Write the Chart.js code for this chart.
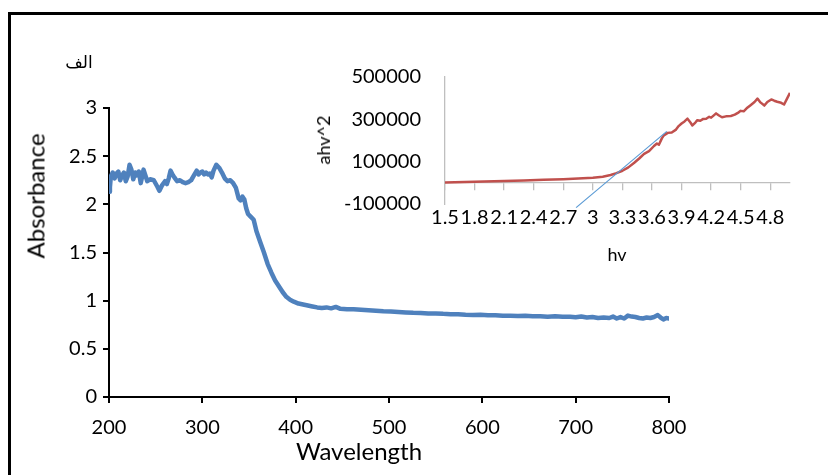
<!DOCTYPE html>
<html>
<head>
<meta charset="utf-8">
<script src="https://cdn.jsdelivr.net/npm/chart.js@4"></script>
<style>
  body { margin: 0; background: #fff; }
  #wrap { position: relative; width: 828px; height: 475px; overflow: hidden; }
  #frame { position: absolute; left: 8px; top: 12px; width: 900px; height: 600px; border: 3px solid #000; }
  #mainBox { position: absolute; left: 0; top: 0; width: 828px; height: 475px; }
  #insetBox { position: absolute; left: 300px; top: 41px; width: 528px; height: 230px; }
  .lbl { position: absolute; font-family: Lato, sans-serif; color: #000; white-space: nowrap; transform: translate(-50%, -50%); }
  .rot { transform: translate(-50%, -50%) rotate(-90deg); }
</style>
</head>
<body>
<div id="wrap">
  <div id="frame"></div>
  <div id="mainBox"><canvas id="main"></canvas></div>
  <div id="insetBox"><canvas id="inset"></canvas></div>
  <div class="lbl" style="left:79px; top:62px; font-family:'DejaVu Sans'; font-size:17px;">الف</div>
  <div class="lbl rot" style="left:35px; top:196px; font-size:24px;">Absorbance</div>
  <div class="lbl" style="left:359px; top:450px; font-size:24px;">Wavelength</div>
  <div class="lbl rot" style="left:323px; top:140px; font-size:18px;">ahv^2</div>
  <div class="lbl" style="left:617px; top:254px; font-size:18px;">hv</div>
</div>
<script>
// main spectrum: absorbance vs wavelength (nm)
const wavelength = [200, 201, 202, 204, 206, 208, 210, 212, 214, 216, 218, 220, 222, 224, 226, 228, 230, 232, 234, 236,
  237, 239, 241, 244, 248, 252, 254, 257, 260, 262, 264, 266, 268, 270, 273, 276, 279, 282, 285, 288,
  291, 294, 296, 298, 300, 302, 304, 306, 308, 310, 312, 315, 318, 321, 324, 327, 330, 333, 336, 339,
  341, 343, 345, 347, 349, 352, 355, 358, 362, 366, 370, 374, 378, 382, 386, 390, 394, 398, 403, 408,
  413, 418, 423, 428, 433, 438, 443, 448, 455, 462, 470, 478, 486, 494, 502, 510, 518, 526, 534, 542,
  550, 558, 566, 574, 582, 590, 598, 606, 614, 622, 630, 638, 646, 654, 662, 670, 678, 686, 694, 700,
  706, 712, 718, 724, 730, 736, 740, 744, 748, 752, 756, 760, 764, 768, 772, 776, 780, 784, 788, 791,
  794, 797, 800];
const absorbance = [2.13, 2.18, 2.29, 2.33, 2.27, 2.32, 2.34, 2.25, 2.30, 2.33, 2.24, 2.29, 2.41, 2.36, 2.26, 2.33, 2.30, 2.34, 2.22, 2.31,
  2.36, 2.30, 2.24, 2.26, 2.25, 2.18, 2.14, 2.20, 2.24, 2.21, 2.27, 2.35, 2.31, 2.28, 2.24, 2.25, 2.23, 2.22, 2.23, 2.25,
  2.30, 2.35, 2.31, 2.33, 2.34, 2.31, 2.33, 2.31, 2.32, 2.28, 2.35, 2.41, 2.38, 2.33, 2.27, 2.24, 2.25, 2.22, 2.17, 2.06,
  2.04, 2.08, 2.05, 1.96, 1.90, 1.87, 1.84, 1.72, 1.61, 1.50, 1.38, 1.29, 1.21, 1.15, 1.09, 1.04, 1.01, 0.99, 0.97, 0.96,
  0.95, 0.94, 0.93, 0.925, 0.93, 0.92, 0.935, 0.915, 0.91, 0.91, 0.905, 0.90, 0.895, 0.89, 0.888, 0.883, 0.878, 0.874, 0.873, 0.868,
  0.868, 0.863, 0.86, 0.858, 0.853, 0.85, 0.853, 0.848, 0.848, 0.843, 0.843, 0.84, 0.843, 0.838, 0.838, 0.834, 0.838, 0.833, 0.833, 0.828,
  0.836, 0.826, 0.83, 0.82, 0.825, 0.82, 0.835, 0.815, 0.83, 0.815, 0.845, 0.835, 0.83, 0.82, 0.815, 0.825, 0.82, 0.83, 0.85, 0.825,
  0.805, 0.82, 0.815];
const wavelengthTicks = [200, 300, 400, 500, 600, 700, 800];
const absorbanceTicks = [0, 0.5, 1, 1.5, 2, 2.5, 3];

// inset: (ahv)^2 vs photon energy hv (eV)
const hv = [1.50, 1.70, 1.90, 2.10, 2.30, 2.50, 2.70, 2.85, 3.00, 3.10, 3.18, 3.24, 3.30, 3.36, 3.42, 3.47, 3.52, 3.57, 3.62, 3.65,
  3.67, 3.70, 3.72, 3.76, 3.80, 3.84, 3.87, 3.90, 3.93, 3.96, 3.99, 4.01, 4.04, 4.06, 4.09, 4.12, 4.15, 4.18, 4.20, 4.23,
  4.25, 4.28, 4.31, 4.35, 4.40, 4.44, 4.48, 4.50, 4.53, 4.56, 4.60, 4.64, 4.67, 4.70, 4.74, 4.77, 4.81, 4.84, 4.87, 4.91,
  4.94, 4.97, 5.00];
const ahv2 = [2000, 4000, 6000, 8500, 11000, 14000, 17000, 20000, 24000, 29000, 37000, 46000, 57000, 73000, 95000, 115000, 137000, 150000, 174000, 186000,
  180000, 210000, 224000, 236000, 238000, 250000, 268000, 280000, 290000, 303000, 285000, 271000, 285000, 296000, 293000, 302000, 303000, 312000, 308000, 320000,
  328000, 318000, 310000, 314000, 316000, 322000, 333000, 340000, 338000, 352000, 367000, 382000, 398000, 380000, 365000, 382000, 394000, 388000, 383000, 378000,
  370000, 398000, 425000];
const tangentHv = [2.83, 3.75];
const tangentAhv2 = [-117000, 243000];
const hvTicks = [1.5, 1.8, 2.1, 2.4, 2.7, 3, 3.3, 3.6, 3.9, 4.2, 4.5, 4.8];
const ahv2Ticks = [-100000, 100000, 300000, 500000];

Chart.defaults.font.family = 'Lato, sans-serif';
Chart.defaults.color = '#000';

const toPoints = (xs, ys) => xs.map((x, i) => ({ x: x, y: ys[i] }));
const asText = v => String(Math.round(v * 10) / 10);

new Chart(document.getElementById('main'), {
  type: 'line',
  data: {
    datasets: [{
      data: toPoints(wavelength, absorbance),
      borderColor: '#4F81BD',
      borderWidth: 4.5,
      pointRadius: 0,
      borderJoinStyle: 'round',
      borderCapStyle: 'round'
    }]
  },
  options: {
    responsive: true,
    maintainAspectRatio: false,
    animation: false,
    layout: { padding: { left: 0, top: 108, right: 159, bottom: 0 } },
    plugins: { legend: { display: false }, tooltip: { enabled: false } },
    scales: {
      x: {
        type: 'linear',
        min: wavelengthTicks[0],
        max: wavelengthTicks[wavelengthTicks.length - 1],
        afterBuildTicks: s => { s.ticks = wavelengthTicks.map(v => ({ value: v })); },
        ticks: { font: { size: 20 }, padding: 13, maxRotation: 0, callback: asText },
        grid: { drawOnChartArea: false, color: '#000', lineWidth: 2, tickLength: 6 },
        border: { color: '#000', width: 2 },
        afterFit: s => { s.height = 78; }
      },
      y: {
        min: absorbanceTicks[0],
        max: absorbanceTicks[absorbanceTicks.length - 1],
        afterBuildTicks: s => { s.ticks = absorbanceTicks.map(v => ({ value: v })); },
        ticks: { font: { size: 20 }, padding: 6, callback: asText },
        grid: { drawOnChartArea: false, color: '#000', lineWidth: 2, tickLength: 6 },
        border: { color: '#000', width: 2 },
        afterFit: s => { s.width = 109; }
      }
    }
  }
});

// the inset's y tick padding (24) also pads the top by 12 + 24 = 36px
new Chart(document.getElementById('inset'), {
  type: 'line',
  data: {
    datasets: [{
      data: toPoints(tangentHv, tangentAhv2),
      borderColor: '#5B9BD5',
      borderWidth: 1.2,
      pointRadius: 0,
      clip: false
    }, {
      data: toPoints(hv, ahv2),
      borderColor: '#C0504D',
      borderWidth: 2.5,
      pointRadius: 0,
      borderJoinStyle: 'round'
    }]
  },
  options: {
    responsive: true,
    maintainAspectRatio: false,
    animation: false,
    layout: { padding: { left: 0, top: 36, right: 38, bottom: 0 } },
    plugins: { legend: { display: false }, tooltip: { enabled: false } },
    scales: {
      x: {
        type: 'linear',
        position: { y: 0 },
        min: 1.5,
        max: 5.0,
        afterBuildTicks: s => { s.ticks = hvTicks.map(v => ({ value: v })); },
        ticks: { display: false },
        grid: { drawOnChartArea: false, color: '#BFBFBF', lineWidth: 1.3, tickLength: 7 },
        border: { color: '#BFBFBF', width: 1.3 }
      },
      x2: {
        type: 'linear',
        position: 'bottom',
        min: 1.5,
        max: 5.0,
        afterBuildTicks: s => { s.ticks = hvTicks.map(v => ({ value: v })); },
        ticks: { font: { size: 20 }, padding: 2, autoSkip: false, maxRotation: 0, callback: asText },
        grid: { display: false, drawTicks: false },
        border: { display: false },
        afterFit: s => { s.height = 67; }
      },
      y: {
        min: ahv2Ticks[0],
        max: ahv2Ticks[ahv2Ticks.length - 1],
        afterBuildTicks: s => { s.ticks = ahv2Ticks.map(v => ({ value: v })); },
        ticks: { font: { size: 20 }, padding: 24, callback: v => String(v) },
        grid: { display: false, drawTicks: false },
        border: { color: '#BFBFBF', width: 1.3 },
        afterFit: s => { s.width = 145; }
      }
    }
  }
});
</script>
</body>
</html>
